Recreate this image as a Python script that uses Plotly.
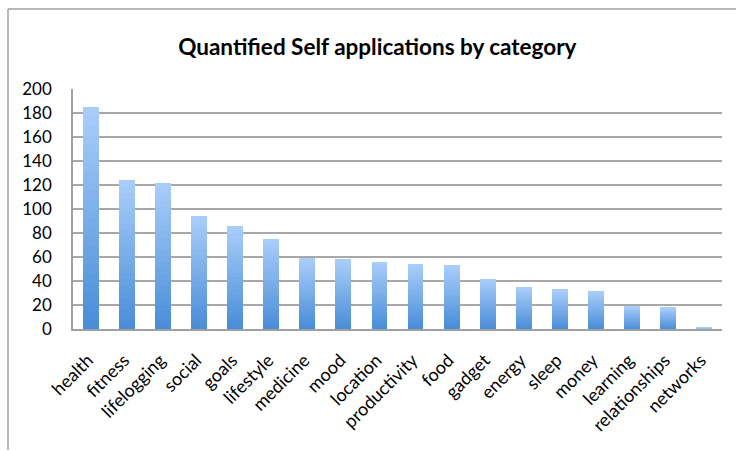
import plotly.graph_objects as go

categories = ["health", "fitness", "lifelogging", "social", "goals", "lifestyle",
              "medicine", "mood", "location", "productivity", "food", "gadget",
              "energy", "sleep", "money", "learning", "relationships", "networks"]
counts = [185, 124, 122, 94, 86, 75, 59, 58, 56, 54, 53, 42, 35, 33, 32, 19, 18, 1]
y_ticks = list(range(0, 201, 20))

TOP = (168, 205, 250)
BOTTOM = (75, 142, 216)
N = 24

fig = go.Figure()
for i in range(N):
    t = i / (N - 1)
    c = tuple(round(BOTTOM[k] + (TOP[k] - BOTTOM[k]) * t) for k in range(3))
    fig.add_trace(go.Bar(
        x=categories,
        y=[v / N for v in counts],
        marker=dict(color="rgb(%d,%d,%d)" % c, line=dict(width=0)),
        width=0.44,
        showlegend=False,
        hoverinfo="skip",
    ))

W, H = 737, 451
PL, PR, PT, PB = 73, 722, 89, 329
pw, ph = PR - PL, PB - PT
fx = (8 - PL) / pw
fy = (PB - 9) / ph
fx_end = (W - 1 - PL) / pw
fy_end = (PB - (H - 1)) / ph

fig.update_layout(
    barmode="stack",
    width=W, height=H,
    margin=dict(l=PL, r=W - PR, t=PT, b=H - PB),
    paper_bgcolor="white",
    plot_bgcolor="white",
    font=dict(family="Lato, 'Open Sans', sans-serif", color="black"),
    title=dict(text="<b>Quantified Self applications by category</b>",
               x=0.512, xanchor="center", y=0.896, yanchor="middle",
               font=dict(size=22.5, color="black")),
    xaxis=dict(
        tickangle=-45,
        tickfont=dict(size=18),
        showline=True, linecolor="#a0a0a0", linewidth=1.5,
        showgrid=False, ticks="",
        ticklabelstandoff=12,
        ticklabelshift=-3,
    ),
    yaxis=dict(
        range=[0, 200],
        tickvals=y_ticks,
        tickfont=dict(size=17),
        showline=True, linecolor="#a0a0a0", linewidth=1.5,
        gridcolor="#a8a8a8", gridwidth=1.5,
        ticks="", ticklabelstandoff=16,
        zeroline=False,
    ),
    shapes=[
        dict(type="line", xref="paper", yref="paper",
             x0=fx, x1=fx, y0=fy_end, y1=fy,
             line=dict(color="#a0a0a0", width=1.5), layer="below"),
        dict(type="line", xref="paper", yref="paper",
             x0=fx, x1=fx_end, y0=fy, y1=fy,
             line=dict(color="#a0a0a0", width=1.5), layer="below"),
    ],
)

fig.write_html("out.html")
